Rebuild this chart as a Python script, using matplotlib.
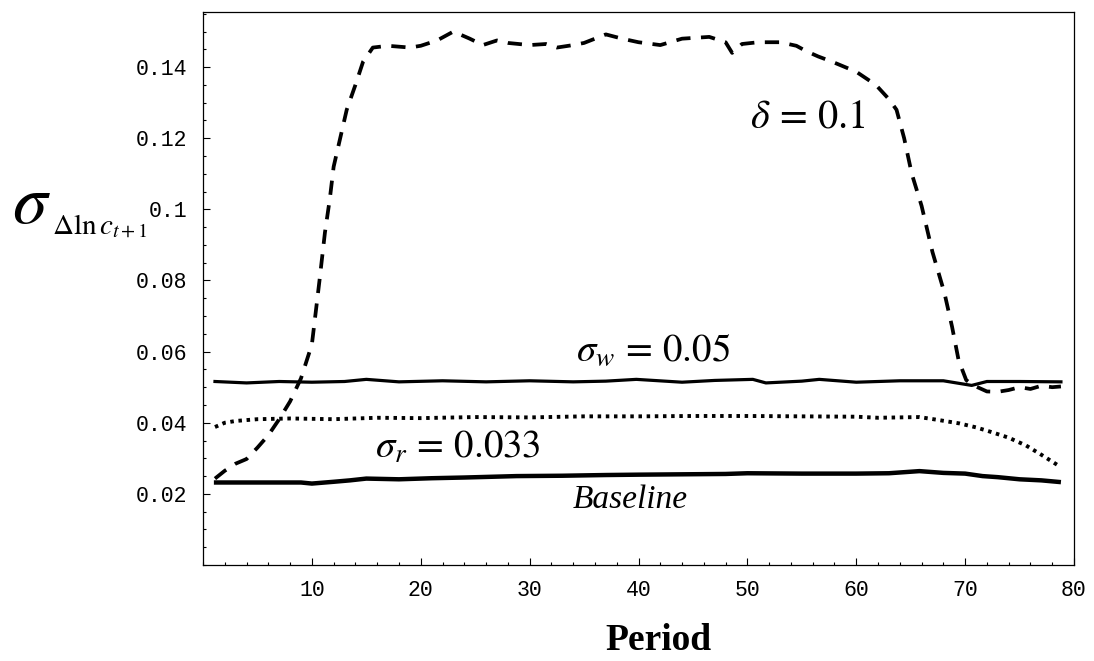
import matplotlib
matplotlib.use("Agg")
import matplotlib.pyplot as plt
from matplotlib.ticker import MultipleLocator

plt.rcParams['mathtext.fontset'] = 'stix'

# Baseline
base_p = [1, 5, 9, 10, 12, 13.5, 15, 18, 21, 24, 28.8, 33, 37, 40, 44, 48, 50, 55, 60, 63, 65.8, 68, 70, 71.6, 73, 75, 77, 78.8]
base_v = [0.0232, 0.0232, 0.0232, 0.0229, 0.0234, 0.0238, 0.0243, 0.0241, 0.0244, 0.0246, 0.0250, 0.0251, 0.0253, 0.0254, 0.0255, 0.0256, 0.0258, 0.0257, 0.0257, 0.0258, 0.0264, 0.0259, 0.0257, 0.0250, 0.0247, 0.0241, 0.0238, 0.0233]

# sigma_w = 0.05
w_p = [1.1, 4, 7, 10, 13, 15, 18, 22, 26, 30, 34, 37, 39.8, 44, 47, 50.5, 51.7, 55, 56.6, 60, 64, 68, 70.6, 72, 75, 78.8]
w_v = [0.0516, 0.0512, 0.0516, 0.0514, 0.0516, 0.0522, 0.0515, 0.0518, 0.0515, 0.0518, 0.0515, 0.0517, 0.0522, 0.0514, 0.0519, 0.0522, 0.0512, 0.0517, 0.0522, 0.0514, 0.0518, 0.0518, 0.0505, 0.0516, 0.0516, 0.0515]

# sigma_r = 0.033
r_p = [1.1, 2, 3, 5, 8, 12, 16, 20, 25, 30, 35, 40, 45, 50, 55, 60, 62, 65.8, 67.5, 69.5, 71, 72.5, 74, 75.6, 77, 78.7]
r_v = [0.0388, 0.0400, 0.0405, 0.0410, 0.0412, 0.0410, 0.0414, 0.0413, 0.0416, 0.0415, 0.0418, 0.0418, 0.0419, 0.0419, 0.0418, 0.0417, 0.0414, 0.0416, 0.0408, 0.0398, 0.0387, 0.0373, 0.0358, 0.0336, 0.0310, 0.0277]

# delta = 0.1
d_p = [1.1, 2, 3, 4, 5, 6, 7, 8, 9, 10, 10.7, 11.2, 11.65, 12, 12.6, 13.2, 14, 14.7, 15.6, 17, 19, 20,
       21.5, 23, 24.5, 25.7, 27, 28, 30, 31.5, 32.5, 34, 35, 37, 38.5, 40, 42, 44, 46.5, 48, 48.6, 49.5,
       51, 53, 54.5, 55.4, 56.5, 57.8, 60, 61.8, 63, 63.7, 64.4, 65.1, 66, 67, 68.1, 68.8, 69.4, 70.1,
       70.7, 72, 73, 74, 75, 76, 77, 78, 78.8]
d_v = [0.0243, 0.0265, 0.0285, 0.0298, 0.0330, 0.0365, 0.0410, 0.0460, 0.0525, 0.0620, 0.0800, 0.0935,
       0.1030, 0.1120, 0.1200, 0.1280, 0.1350, 0.1415, 0.1455, 0.1460, 0.1455, 0.1460, 0.1475, 0.1500,
       0.1480, 0.1462, 0.1475, 0.1468, 0.1462, 0.1465, 0.1455, 0.1462, 0.1468, 0.1492, 0.1480, 0.1470,
       0.1462, 0.1480, 0.1485, 0.1470, 0.1440, 0.1465, 0.1470, 0.1470, 0.1460, 0.1445, 0.1430, 0.1415,
       0.1387, 0.1350, 0.1310, 0.1280, 0.1200, 0.1100, 0.1010, 0.0880, 0.0765, 0.0670, 0.0576, 0.0520,
       0.0506, 0.0488, 0.0487, 0.0492, 0.0500, 0.0495, 0.0504, 0.0500, 0.0502]

x_ticks = [10, 20, 30, 40, 50, 60, 70, 80]
y_ticks = [0.02, 0.04, 0.06, 0.08, 0.1, 0.12, 0.14]
y_labels = ['0.02', '0.04', '0.06', '0.08', '0.1', '0.12', '0.14']

fig = plt.figure(figsize=(10.94, 6.61), dpi=100)
ax = fig.add_axes([203 / 1094, 96 / 661, 871 / 1094, 553 / 661])

ax.plot(base_p, base_v, color='black', lw=3.2, solid_capstyle='butt')
ax.plot(w_p, w_v, color='black', lw=2.3)
ax.plot(r_p, r_v, color='black', lw=2.8, linestyle=(0, (0.9, 1.2)))
ax.plot(d_p, d_v, color='black', lw=2.7, linestyle=(0, (3.8, 2.8)))

ax.set_xlim(0, 80)
ax.set_ylim(0, 0.1555)
ax.set_xticks(x_ticks)
ax.set_xticklabels([str(t) for t in x_ticks])
ax.set_yticks(y_ticks)
ax.set_yticklabels(y_labels)
ax.xaxis.set_minor_locator(MultipleLocator(2))
ax.yaxis.set_minor_locator(MultipleLocator(0.005))
ax.tick_params(which='both', direction='in', top=False, right=False, width=0.8)
ax.tick_params(which='major', length=5)
ax.tick_params(which='minor', length=2.5)
ax.tick_params(axis='y', pad=11)
ax.tick_params(axis='x', pad=11)
for lab in ax.get_xticklabels() + ax.get_yticklabels():
    lab.set_fontfamily('Liberation Mono')
    lab.set_fontsize(15.5)
for s in ax.spines.values():
    s.set_linewidth(0.9)

# curve labels
ax.text(50.2, 0.1231, r'$\delta\,=\,0.1$', fontsize=29, ha='left', va='baseline')
ax.text(34.3, 0.0575, r'$\sigma_w\,=\,0.05$', fontsize=28, ha='left', va='baseline')
ax.text(15.8, 0.0302, r'$\sigma_r\,=\,0.033$', fontsize=28, ha='left', va='baseline')
ax.text(34.0, 0.0159, 'Baseline', fontsize=24, family='Liberation Serif', style='italic',
        ha='left', va='baseline')

# axis labels
fig.text(12 / 1094, 1 - 223 / 661, r'$\sigma$', fontsize=50, ha='left', va='baseline')
fig.text(52 / 1094, 1 - 233 / 661, r'$\Delta\ln c_{t+1}$', fontsize=21, ha='left', va='baseline')
fig.text(658 / 1094, 1 - 650 / 661, 'Period', fontsize=27, family='Liberation Serif',
         weight='bold', ha='center', va='baseline')

fig.savefig('out.png', dpi=100)
